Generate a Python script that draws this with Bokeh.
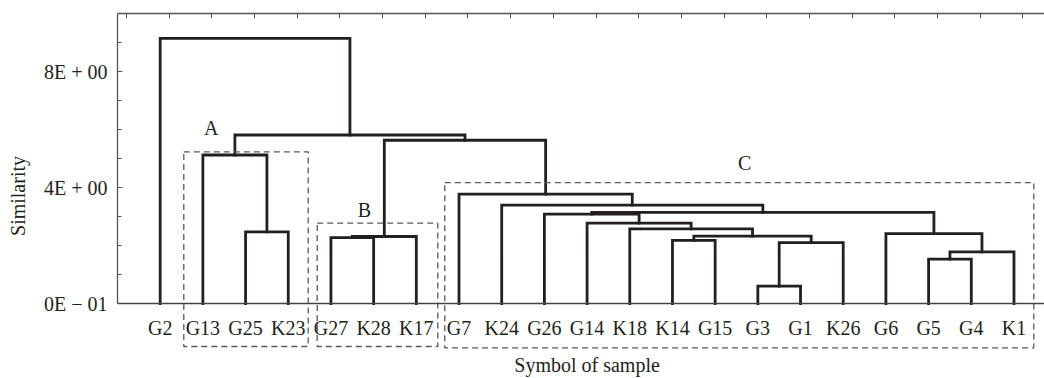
from bokeh.plotting import figure
from bokeh.models import Range1d, LinearAxis, FixedTicker, Span
from bokeh.core.properties import value
from bokeh.embed import file_html
from bokeh.resources import INLINE

# ---------------- data ----------------
leaves = ["G2", "G13", "G25", "K23", "G27", "K28", "K17", "G7", "K24", "G26",
          "G14", "K18", "K14", "G15", "G3", "G1", "K26", "G6", "G5", "G4", "K1"]

# linkage: each merge joins two members (leaf names or earlier merges "m<k>")
merge_left = ["G25", "G13", "G27", "m2", "G3", "m4", "K14", "m6", "K18", "G14",
              "G26", "G5", "m11", "G6", "m10", "K24", "G7", "m3", "m1", "G2"]
merge_right = ["K23", "m0", "K28", "K17", "G1", "K26", "G15", "m5", "m7", "m8",
               "m9", "G4", "K1", "m12", "m13", "m14", "m15", "m16", "m17", "m18"]
merge_height = [2.47, 5.12, 2.27, 2.31, 0.60, 2.10, 2.18, 2.32, 2.57, 2.77,
                3.08, 1.53, 1.78, 2.41, 3.14, 3.39, 3.77, 5.63, 5.81, 9.14]

y_ticks = [0, 4, 8]
y_tick_labels = ["0E \u2212 01", "4E + 00", "8E + 00"]

group_names = ["A", "B", "C"]

# ---------------- layout helpers ----------------
FONT = "Liberation Serif"
INK = "#231f20"

pos = {name: i + 1 for i, name in enumerate(leaves)}
hgt = {name: 0.0 for name in leaves}
seg_xs, seg_ys = [], []
for k, (a, b, h) in enumerate(zip(merge_left, merge_right, merge_height)):
    seg_xs.append([pos[a], pos[a], pos[b], pos[b]])
    seg_ys.append([hgt[a], h, h, hgt[b]])
    pos["m%d" % k] = (pos[a] + pos[b]) / 2.0
    hgt["m%d" % k] = h

p = figure(width=1044, height=378,
           x_range=Range1d(0, 21.715), y_range=Range1d(-2.586, 10),
           output_backend="svg", toolbar_location=None,
           x_axis_location=None, y_axis_location=None,
           min_border_left=117, min_border_right=0,
           min_border_top=13, min_border_bottom=0)
p.outline_line_color = None
p.background_fill_color = "white"
p.border_fill_color = "white"
for g in p.grid:
    g.visible = False

# left axis
yaxis = LinearAxis(ticker=FixedTicker(ticks=y_ticks, minor_ticks=[1, 2, 3, 5, 6, 7, 9]),
                   bounds=(0, 10),
                   major_label_overrides={t: s for t, s in zip(y_ticks, y_tick_labels)},
                   axis_label="Similarity",
                   axis_label_text_font=FONT, axis_label_text_font_style="normal",
                   axis_label_text_font_size="20px", axis_label_text_color=INK,
                   axis_label_standoff=12,
                   major_label_text_font=FONT, major_label_text_font_size="20px",
                   major_label_text_color=INK, major_label_standoff=10,
                   axis_line_color="#555555", axis_line_width=1.3,
                   major_tick_in=5, major_tick_out=0, major_tick_line_color="#555555",
                   minor_tick_in=4, minor_tick_out=0, minor_tick_line_color="#555555")
p.add_layout(yaxis, "left")

# top axis (ticks only)
top_ticks = [i + 0.21 for i in range(22)]
taxis = LinearAxis(ticker=FixedTicker(ticks=top_ticks, minor_ticks=[]),
                   major_label_text_font_size="0px", major_label_text_alpha=0,
                   major_label_standoff=0,
                   axis_line_color="#555555", axis_line_width=1.3,
                   major_tick_in=5, major_tick_out=0, major_tick_line_color="#555555",
                   minor_tick_line_color=None)
p.add_layout(taxis, "above")

# baseline
p.add_layout(Span(location=0, dimension="width", line_color="#444444", line_width=1.3))

# dendrogram
p.multi_line(xs=seg_xs, ys=seg_ys, line_color=INK, line_width=2.8,
             line_join="miter", line_cap="square")

# leaf labels
p.text(x=[pos[n] for n in leaves], y=-0.84, text=leaves,
       text_font=value(FONT), text_font_size="20px", text_color=INK,
       text_align="center", text_baseline="alphabetic")

# group boxes
box_left = [1.553, 4.678, 7.667]
box_right = [4.467, 7.503, 21.464]
box_top = [5.23, 2.77, 4.17]
box_bottom = [-1.483, -1.483, -1.53]
p.quad(left=box_left, right=box_right, top=box_top, bottom=box_bottom,
       fill_color=None, line_color="#58595b", line_width=1.3, line_dash="6 4")

# group letters
p.text(x=[2.195, 5.786, 14.69], y=[6.05, 3.22, 4.86], text=group_names,
       text_font=value(FONT), text_font_size="20px", text_color=INK,
       text_align="center", text_baseline="alphabetic")

# x axis title
p.text(x=[11.0], y=[-2.12], text=["Symbol of sample"],
       text_font=value(FONT), text_font_size="20px", text_color=INK,
       text_align="center", text_baseline="alphabetic")

open("out.html", "w").write(file_html(p, INLINE))
